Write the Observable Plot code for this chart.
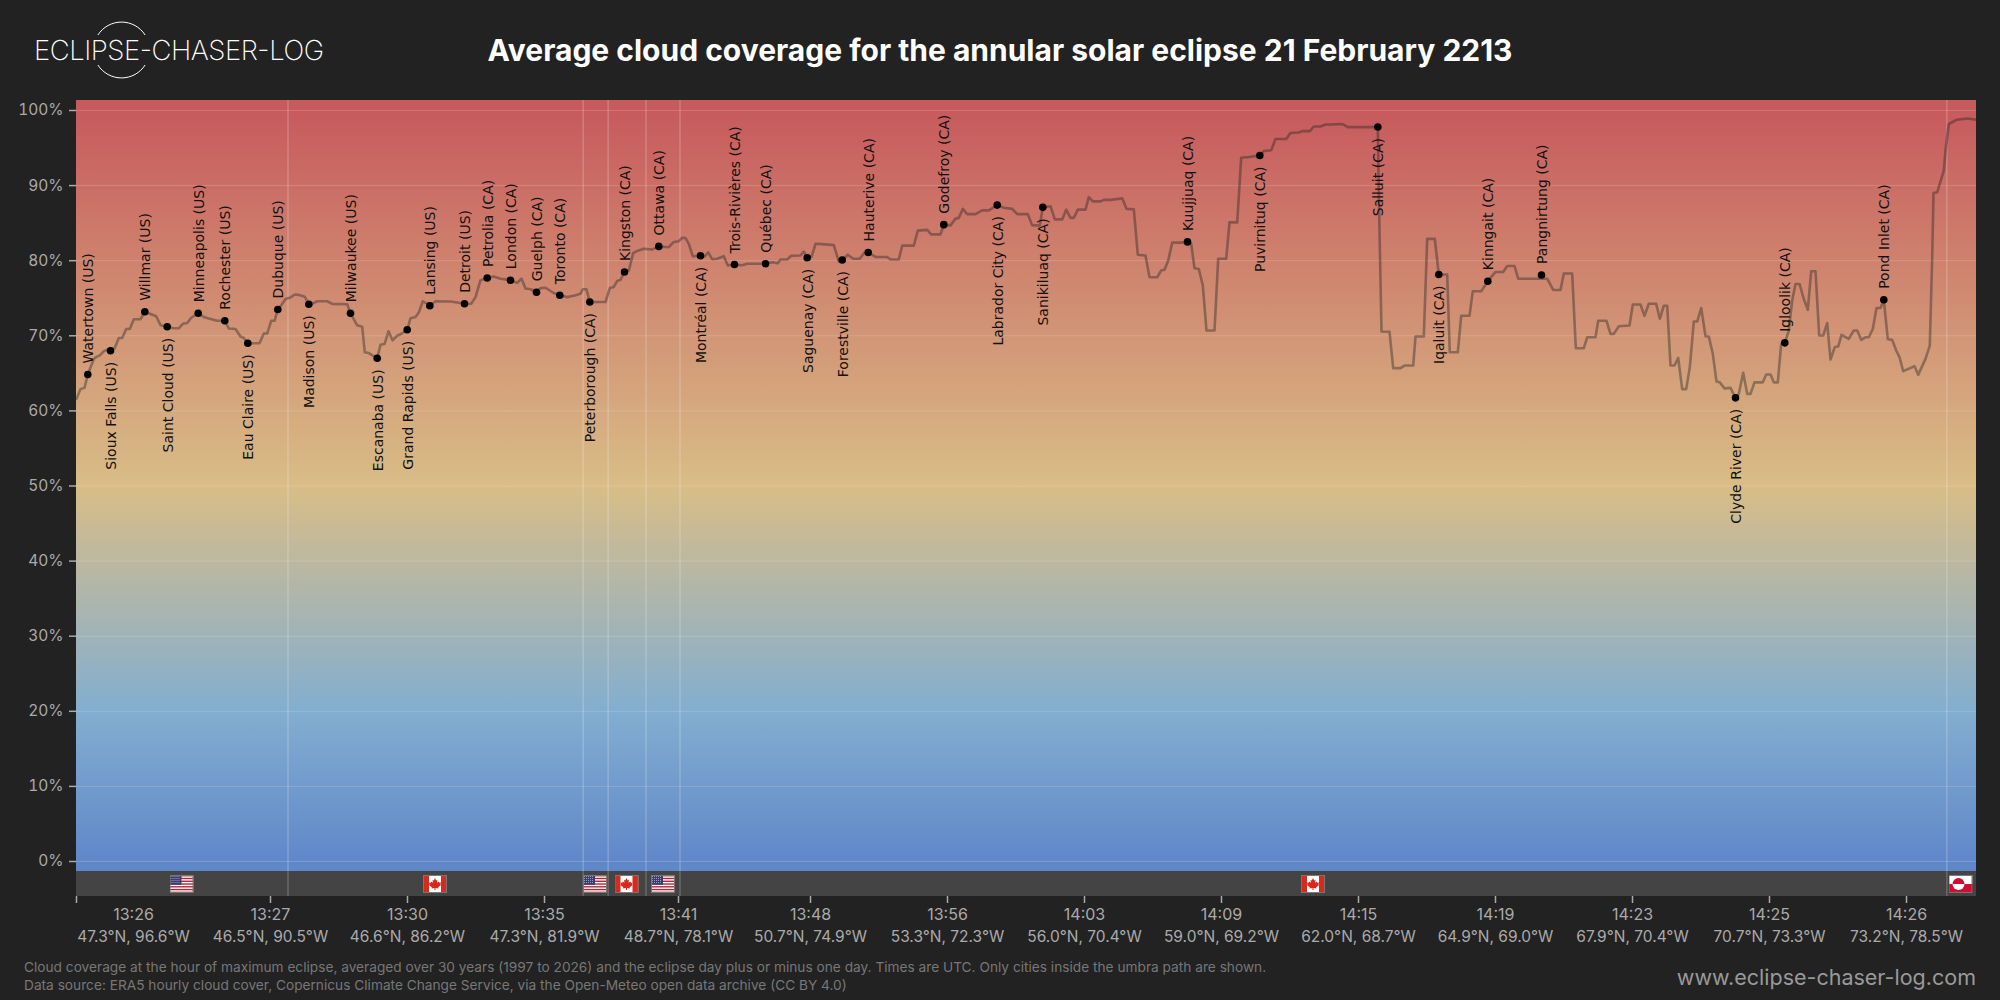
<!DOCTYPE html>
<html>
<head>
<meta charset="utf-8">
<script src="https://cdn.jsdelivr.net/npm/d3@7"></script>
<script src="https://cdn.jsdelivr.net/npm/@observablehq/plot@0.6"></script>
<style>
html,body{margin:0;padding:0;background:#222;width:2000px;height:1000px;overflow:hidden;font-family:Inter,sans-serif;}
#head{position:absolute;left:0;top:0;width:2000px;height:100px;}
#title{position:absolute;left:0;width:2000px;top:30px;line-height:40px;text-align:center;color:#fff;font-size:30px;font-weight:700;}
#logo{position:absolute;left:0;top:0;}
#chart{position:absolute;left:0;top:100px;}
#cap{position:absolute;left:24px;top:958px;color:#777;font-size:13.7px;line-height:18px;white-space:nowrap;}
#site{position:absolute;right:24px;top:962px;color:#999;font-size:21.5px;line-height:30px;}
</style>
</head>
<body>
<div id="head">
<svg id="logo" width="340" height="100">
<path d="M97.9 35 A28 28 0 0 1 145.1 35 M97.9 65 A28 28 0 0 0 145.1 65" fill="none" stroke="#fff" stroke-width="1"/>
<text x="34" y="60" fill="#fff" font-family="Inter" font-weight="200" font-size="27.5" textLength="290">ECLIPSE-CHASER-LOG</text>
</svg>
<div id="title">Average cloud coverage for the annular solar eclipse 21 February 2213</div>
</div>
<div id="chart"></div>
<div id="cap">Cloud coverage at the hour of maximum eclipse, averaged over 30 years (1997 to 2026) and the eclipse day plus or minus one day. Times are UTC. Only cities inside the umbra path are shown.<br>Data source: ERA5 hourly cloud cover, Copernicus Climate Change Service, via the Open-Meteo open data archive (CC BY 4.0)</div>
<div id="site">www.eclipse-chaser-log.com</div>
<script>
const trackX = [0,4,8,11.3,17.3,20,23.3,27.3,34,38,42.3,45.7,49.7,53.3,57.3,64,68.3,74,79.7,84,90.7,97,102.3,106.3,110.7,114.7,121.7,127.3,132.3,140.7,148.3,152.3,159,164,167.3,171.3,183,187.3,190.7,194.7,198,201.3,205,209,214,218.3,222,228.3,232.3,236,240.7,250.7,255.7,270.7,274,280.7,285.7,288.3,292.3,300.7,304,308,312,316,320.7,324,330.7,334,339,342.3,346.3,353.3,359,374,382.3,388,394.7,399,404,410.7,417.3,424,434,440.7,445,449,454,460,464,469,477.3,483.3,490.7,499,504,506.3,510,513.3,529,533.3,537.3,540.7,544,548,552.3,556.7,560.7,567.3,575.7,582.3,592.3,597.3,602.3,605.7,609,612.3,616.3,624,628,631.7,635.7,640.7,647.3,651.3,658,665.7,670.7,689,696,701.3,704,710.7,714.7,724,727.3,730.7,735,739,745.7,757.3,762.3,765.7,771.3,776.7,783.3,788,791.7,799,810.7,814,822.3,825.7,837.3,841.3,850.7,854.7,864,867.3,874,879,882.3,886.3,890.7,899,905.7,912.3,920.7,927.3,935.7,940.7,951.3,955.7,963.3,966.3,974,978.3,985.7,989.7,994,997.3,1001.3,1009,1012.3,1016.3,1024,1027.3,1034,1045.7,1050,1057.3,1061.3,1069,1073,1080.7,1084.7,1088,1091.7,1095.7,1104,1111,1114.7,1118,1122.3,1126.3,1130,1138,1141.7,1149.7,1153,1160.7,1164.7,1172.3,1183.3,1187.3,1194.7,1199,1209.7,1214,1222.3,1225.7,1233.3,1237.3,1244,1249,1255.7,1263.3,1267,1271.3,1301.3,1302.3,1305,1313,1316.7,1324,1328,1336.7,1339,1347.3,1350.7,1358.3,1362.3,1370.7,1373.3,1381.3,1384.7,1393,1396.3,1404.7,1411.3,1419,1426.7,1430.7,1438,1441.7,1464,1470.7,1476.7,1484,1487.3,1495.7,1499.3,1507.3,1510.7,1519,1521.7,1530,1534,1537.3,1542.3,1553,1556.3,1564,1568,1572.3,1579.7,1583.3,1587.3,1590.7,1594,1598,1601.7,1605.7,1609.7,1613.3,1617.3,1620.7,1624.7,1629,1632.3,1636.3,1640,1643.3,1648,1654,1659,1662.3,1666.7,1670.7,1674,1678,1686.3,1689.7,1694,1697.3,1701.3,1704.7,1708.3,1712.3,1715.7,1719,1723,1727.3,1731.3,1734.7,1739,1742.7,1746.7,1750.7,1754,1758.3,1761.7,1765,1772.3,1777.3,1780.7,1784.7,1789,1792.3,1796.3,1800,1804,1807.3,1811.3,1815.7,1819.7,1823,1826.7,1838,1841.7,1849,1853.3,1855.7,1857,1860.7,1867.3,1869,1872.3,1880,1890.7,1900];
const trackCover = [61.6,62.9,63.07,64.85,66.9,67.2,67.4,67.95,68.3,68.3,69.7,69.7,70.9,70.9,72.2,72.2,73.2,72.9,72.6,71.4,71.2,71,71,71.6,71.7,72.4,73,72.5,72.3,72,72,70.97,70.9,69.9,69.7,69,69,70.3,70.3,72,72,73.5,74.1,74.9,75.1,75.5,75.45,75.2,74.2,74.3,74.6,74.6,74.25,74.2,73,71.4,71.2,67.8,67.7,67,68.8,68.9,70.6,69.4,70,70.2,70.8,72.35,72.5,73.1,74.6,74,74.6,74.57,74.4,74.26,74.26,75.15,77.4,77.7,77.9,77.6,77.4,77.05,77.6,76.3,76.2,75.8,76.35,76.4,75.7,75.4,75.15,75.4,75.6,76.2,76.2,74.5,74.5,76.35,76.5,77.3,77.45,78.5,78.7,81,81.3,81.6,81.5,81.9,81.8,82.5,82.6,83.05,83,82.25,80.6,80.65,80.55,81.1,80.2,80.25,80.6,79.35,79.5,79.4,79.6,79.6,79.8,79.65,80.15,80.15,80.65,80.7,81.2,80.4,80.5,82.25,82.2,82.07,79.9,80.1,80.8,80.25,80.25,81.1,81.1,80.5,80.5,80.16,80.16,82,82,84,84.1,83.5,83.5,84.8,84.7,85.6,85.7,86.9,86.2,86.2,86.7,86.7,87.4,87.04,86.9,86.2,86.2,84.7,84.7,87.1,87.26,85.5,85.5,86.8,85.7,85.7,86.8,86.8,88.46,87.9,87.9,88.1,88.1,88.3,86.9,86.85,80.8,80.7,77.8,77.8,78.7,78.8,80,82.4,82.4,82.5,82.25,79,78.9,76.7,70.7,70.7,80.25,80.25,85.1,85.1,93.7,93.8,94,94.6,94.7,96.2,96.2,97,97.07,97.25,97.25,97.87,97.87,98.13,98.13,98.2,98.13,97.78,97.8,88.9,70.57,70.53,65.7,65.7,66.04,66.04,69.9,69.9,82.9,82.9,78.16,78.16,67.8,67.8,72.66,72.66,75.94,75.94,77.27,78.5,78.5,79.3,79.3,77.6,77.6,77.6,76.1,76.1,78.3,78.3,68.35,68.35,69.8,69.8,72,72,70.26,70.26,71.28,71.37,74.17,74.17,72.66,74.26,74.26,72.26,74,74,66.05,66.05,67.06,62.9,62.9,65.8,71.9,71.9,73.7,69.95,69.9,67.6,63.9,63.8,63,63.07,61.74,62.27,65.07,62.27,62.27,63.8,63.8,64.85,64.85,63.8,63.8,68.93,69.06,70.7,74.7,76.9,76.9,74.9,73.46,78.6,78.6,70.04,70.04,71.7,66.84,68.5,68.57,70.13,69.6,70.7,70.7,69.46,69.8,69.8,70.9,73.7,73.7,74.79,69.55,69.46,68.04,67.15,65.29,65.95,64.8,66.93,68.7,80.47,89,89.1,92,94.67,98.2,98.76,98.93,98.76];

const cityNames = ["Watertown (US)","Sioux Falls (US)","Willmar (US)","Saint Cloud (US)","Minneapolis (US)","Rochester (US)","Eau Claire (US)","Dubuque (US)","Madison (US)","Milwaukee (US)","Escanaba (US)","Grand Rapids (US)","Lansing (US)","Detroit (US)","Petrolia (CA)","London (CA)","Guelph (CA)","Toronto (CA)","Peterborough (CA)","Kingston (CA)","Ottawa (CA)","Montréal (CA)","Trois-Rivières (CA)","Québec (CA)","Saguenay (CA)","Forestville (CA)","Hauterive (CA)","Godefroy (CA)","Labrador City (CA)","Sanikiluaq (CA)","Kuujjuaq (CA)","Puvirnituq (CA)","Salluit (CA)","Iqaluit (CA)","Kinngait (CA)","Pangnirtung (CA)","Clyde River (CA)","Igloolik (CA)","Pond Inlet (CA)"];
const cityX = [11.3,34,68.3,90.7,121.7,148.3,171.3,201.3,232.3,274,300.7,330.7,353.3,388,410.7,434,460,483.3,513.3,548,582.3,624,658,689,730.7,765.7,791.7,867.3,920.7,966.3,1111,1183.3,1301.3,1362.3,1411.3,1465,1659,1708.3,1807.3];
const cityCover = [64.85,68,73.2,71.2,73,72,69,73.5,74.2,73,67,70.8,74,74.26,77.7,77.4,75.8,75.4,74.5,78.5,81.9,80.65,79.5,79.6,80.4,80.1,81.1,84.8,87.4,87.1,82.5,94,97.8,78.16,77.27,78.1,61.74,69.06,74.79];
const cityBelow = [0,1,0,1,0,0,1,0,1,0,1,1,0,0,0,0,0,0,1,0,0,1,0,0,1,1,0,0,1,1,0,1,1,1,0,0,1,0,0];

const tickPositions = [0,194,331,468,602,734,871,1008,1145,1282,1419,1556,1693,1830];
const tickLabelPositions = [57,194,331,468,602,734,871,1008,1145,1282,1419,1556,1693,1830];
const tickTimes = ["13:26","13:27","13:30","13:35","13:41","13:48","13:56","14:03","14:09","14:15","14:19","14:23","14:25","14:26"];
const tickCoords = ["47.3°N, 96.6°W","46.5°N, 90.5°W","46.6°N, 86.2°W","47.3°N, 81.9°W","48.7°N, 78.1°W","50.7°N, 74.9°W","53.3°N, 72.3°W","56.0°N, 70.4°W","59.0°N, 69.2°W","62.0°N, 68.7°W","64.9°N, 69.0°W","67.9°N, 70.4°W","70.7°N, 73.3°W","73.2°N, 78.5°W"];

const borderPositions = [211.5,506.6,531.6,569.5,603.5,1870.4];
const flagPositions = [105,358.5,518.5,550,586.5,1236.5,1884];
const flagCountries = ["US","CA","US","CA","US","CA","GL"];

const yTicks = [0,10,20,30,40,50,60,70,80,90,100];
const gradientValues = [100,50,20,0];
const gradientColors = ["#c75a5d","#d9bd87","#83aed0","#6088c9"];

const yBandTop = 101.33, yBandBottom = -1.33, yStripBottom = -4.66;
const flagY = -3, timeLabelY = -7.06, coordLabelY = -10;

const usStripes = [0,1,2,3,4,5,6].map(i=>`<rect y="${i*18/6.5}" width="24" height="${18/13}" fill="#b22234"/>`).join("");
const flagSvgs = {
  US:`<rect width="24" height="18" fill="#fff"/>${usStripes}<rect width="12" height="9.7" fill="#3c3b6e"/><path d="M1 1.5h10M1 3.5h10M1 5.5h10M1 7.5h10" stroke="#9a9ac0" stroke-dasharray="1 1"/>`,
  CA:`<rect width="24" height="18" fill="#fff"/><rect width="6" height="18" fill="#d52b1e"/><rect x="18" width="6" height="18" fill="#d52b1e"/><path d="M12 3l1.2 2.4 1.3-.6-.5 3 1.7-1.3.6 1.2 1.7-.3-.6 2 .8.5-3 2.4.3 1.1-3-.4V15h-1v-2l-3 .4.3-1.1-3-2.4.8-.5-.6-2 1.7.3.6-1.2 1.7 1.3-.5-3 1.3.6z" fill="#d52b1e"/>`,
  GL:`<rect width="24" height="9" fill="#fff"/><rect y="9" width="24" height="9" fill="#d00c33"/><path d="M4 9a6 6 0 0 1 12 0z" fill="#d00c33"/><path d="M4 9a6 6 0 0 0 12 0z" fill="#fff"/>`
};
const flagSrc = c => "data:image/svg+xml," + encodeURIComponent(
  `<svg xmlns="http://www.w3.org/2000/svg" viewBox="0 0 24 18" preserveAspectRatio="none">${flagSvgs[c]}<rect x=".5" y=".5" width="23" height="17" fill="none" stroke="#777"/></svg>`);

const track = trackX.map((x,i)=>({x,y:trackCover[i]}));
const cities = cityNames.map((name,i)=>({name,x:cityX[i],y:cityCover[i],below:cityBelow[i]===1}));
const ticks = tickPositions.map((x,i)=>({x,lx:tickLabelPositions[i],time:tickTimes[i],coord:tickCoords[i]}));
const flags = flagPositions.map((x,i)=>({x,src:flagSrc(flagCountries[i])}));

const gradientDefs = () => {
  const defs = d3.create("svg:defs");
  const g = defs.append("linearGradient").attr("id","cloudGrad").attr("x1",0).attr("x2",0).attr("y1",0).attr("y2",1);
  gradientValues.forEach((v,i)=>{
    g.append("stop").attr("offset",(yBandTop-v)/(yBandTop-yBandBottom)).attr("stop-color",gradientColors[i]);
  });
  return defs.node();
};

const cityText = {rotate:-90,x:"x",y:"y",text:"name",fill:"#111",fontSize:14,fontFamily:"DejaVu Sans",dx:1};

const plot = Plot.plot({
  width:2000,height:860,
  marginLeft:76,marginRight:24,marginTop:0,marginBottom:64,
  style:{background:"transparent",fontFamily:"Inter",overflow:"visible"},
  x:{domain:[0,1900],axis:null},
  y:{domain:[yStripBottom,yBandTop],axis:null},
  marks:[
    gradientDefs,
    Plot.rect([{}],{x1:0,x2:1900,y1:yStripBottom,y2:yBandBottom,fill:"#444"}),
    Plot.rect([{}],{x1:0,x2:1900,y1:yBandBottom,y2:yBandTop,fill:"url(#cloudGrad)"}),
    Plot.ruleY(yTicks,{stroke:"#fff",strokeOpacity:0.16,strokeWidth:1}),
    Plot.ruleX(borderPositions,{stroke:"#fff",strokeOpacity:0.3,strokeWidth:1}),
    Plot.image(flags,{x:"x",y:()=>flagY,src:"src",width:24,height:18,preserveAspectRatio:"none"}),
    Plot.line(track,{x:"x",y:"y",stroke:"#222",strokeOpacity:0.4,strokeWidth:2.6,curve:"linear"}),
    Plot.text(cities.filter(d=>!d.below),{...cityText,textAnchor:"start",dy:-11}),
    Plot.text(cities.filter(d=>d.below),{...cityText,textAnchor:"end",dy:11}),
    Plot.dot(cities,{x:"x",y:"y",r:3.8,fill:"#000"}),
    Plot.axisY({ticks:yTicks,tickFormat:d=>d+"%",tickSize:7,tickPadding:6,fontSize:15.5,color:"#aaa",strokeWidth:1.5,label:null}),
    Plot.axisX({ticks:tickPositions,tickSize:7,text:null,label:null,color:"#aaa",strokeWidth:1.5}),
    Plot.text(ticks,{x:"lx",y:()=>timeLabelY,text:"time",fill:"#aaa",fontSize:16}),
    Plot.text(ticks,{x:"lx",y:()=>coordLabelY,text:"coord",fill:"#aaa",fontSize:15.5})
  ]
});
document.getElementById("chart").appendChild(plot);
</script>
</body>
</html>
